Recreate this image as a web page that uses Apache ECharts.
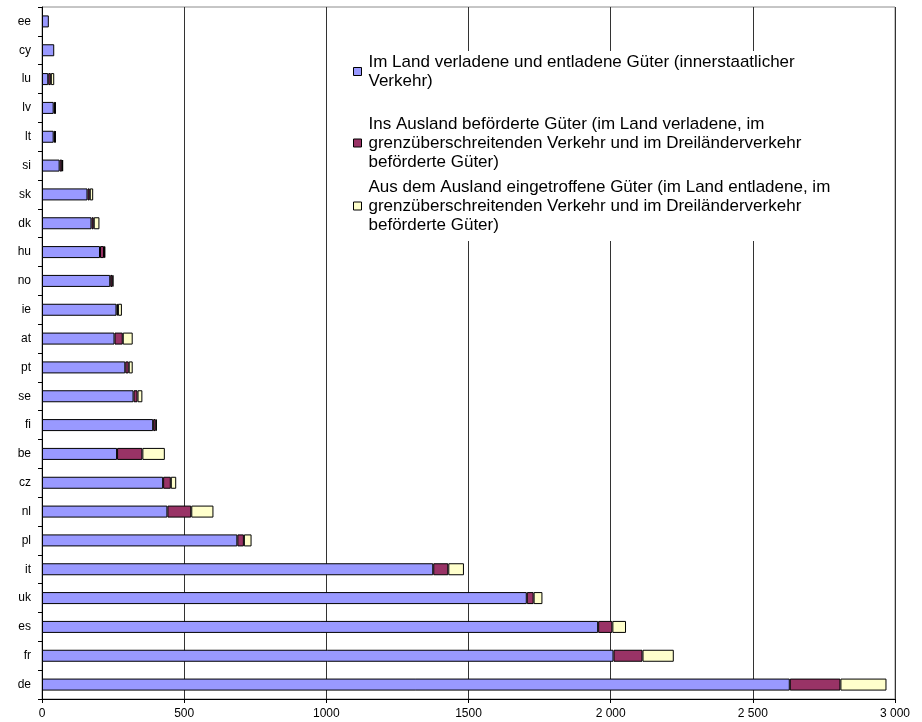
<!DOCTYPE html>
<html>
<head>
<meta charset="utf-8">
<script src="https://cdn.jsdelivr.net/npm/echarts@6/dist/echarts.min.js"></script>
<style>
  html, body { margin: 0; padding: 0; background: #fff; }
  #chart { width: 922px; height: 722px; }
</style>
</head>
<body>
<div id="chart"></div>
<script>
// Countries, top to bottom
const categories = ['ee', 'cy', 'lu', 'lv', 'lt', 'si', 'sk', 'dk', 'hu', 'no', 'ie', 'at',
  'pt', 'se', 'fi', 'be', 'cz', 'nl', 'pl', 'it', 'uk', 'es', 'fr', 'de'];

// National transport (loaded and unloaded in the country)
const domestic = [24, 43, 22, 41, 41, 62, 160, 174, 204, 240, 262, 255,
  293, 322, 391, 264, 426, 441, 687, 1376, 1705, 1956, 2010, 2630];

// Goods sent abroad
const outbound = [null, null, 9, 5, 5, 9, 8, 8, 14, 8, 5, 29,
  12, 14, 9, 89, 27, 84, 23, 53, 24, 50, 102, 178];

// Goods received from abroad
const inbound = [null, null, 12, 2, 2, 3, 12, 20, 5, 3, 14, 35,
  14, 17, 4, 79, 19, 78, 27, 55, 31, 48, 110, 162];

// Value axis tick labels
const tickLabels = ['0', '500', '1000', '1500', '2 000', '2 500', '3 000'];

const seriesNames = [
  'Im Land verladene und entladene Güter (innerstaatlicher\nVerkehr)',
  'Ins Ausland beförderte Güter (im Land verladene, im\ngrenzüberschreitenden Verkehr und im Dreiländerverkehr\nbeförderte Güter)',
  'Aus dem Ausland eingetroffene Güter (im Land entladene, im\ngrenzüberschreitenden Verkehr und im Dreiländerverkehr\nbeförderte Güter)'
];
const seriesData = [domestic, outbound, inbound];
const seriesColors = ['#9999FF', '#993366', '#FFFFCC'];

const FONT = 'Liberation Sans, Arial, sans-serif';
const LEGEND_SIZE = 17;
const LEGEND_LINE = 19;
const legendFirstLine = [63, 125, 188];

const chart = echarts.init(document.getElementById('chart'), null, { renderer: 'canvas' });

// One legend block per series; the square sits on the first text line.
const legends = seriesNames.map((name, i) => {
  const lines = name.split('\n').length;
  return {
    data: [name],
    orient: 'vertical',
    left: 353,
    top: legendFirstLine[i] - LEGEND_LINE / 2,
    padding: 0,
    itemGap: 0,
    itemWidth: 8,
    itemHeight: 8,
    icon: 'rect',
    selectedMode: false,
    z: 10,
    itemStyle: { borderColor: '#000', borderWidth: 1 },
    textStyle: {
      fontFamily: FONT,
      fontSize: LEGEND_SIZE,
      lineHeight: LEGEND_LINE,
      color: '#000',
      padding: [-LEGEND_LINE * (lines - 1), 0, 0, 2]
    }
  };
});

chart.setOption({
  animation: false,
  backgroundColor: '#fff',
  textStyle: { fontFamily: FONT },
  grid: {
    left: 42, right: 27, top: 7, bottom: 23,
    containLabel: false,
    outerBoundsMode: 'none',
    show: true,
    borderColor: '#8c8c8c',
    borderWidth: 1,
    backgroundColor: 'transparent'
  },
  legend: legends,
  graphic: [{
    type: 'rect',
    z: 5,
    shape: { x: 345, y: 51, width: 505, height: 190 },
    style: { fill: '#fff' },
    silent: true
  }],
  xAxis: {
    type: 'value',
    min: 0,
    max: 3000,
    interval: 500,
    axisLine: { show: true, lineStyle: { color: '#000', width: 1 } },
    axisTick: { show: true, length: 4, lineStyle: { color: '#000' } },
    axisLabel: {
      color: '#000',
      fontSize: 12,
      margin: 9,
      formatter: v => tickLabels[Math.round(v / 500)]
    },
    splitLine: { show: true, lineStyle: { color: '#333', width: 1 } }
  },
  yAxis: {
    type: 'category',
    data: categories,
    inverse: true,
    axisLine: { show: true, lineStyle: { color: '#000', width: 1 } },
    axisTick: { show: true, length: 4, alignWithLabel: false, lineStyle: { color: '#000' } },
    axisLabel: { color: '#000', fontSize: 12, margin: 11 },
    splitLine: { show: false }
  },
  series: seriesNames.map((name, i) => ({
    name: name,
    type: 'bar',
    stack: 'total',
    barWidth: 12,
    data: seriesData[i],
    itemStyle: { color: seriesColors[i], borderColor: '#000', borderWidth: 1 },
    emphasis: { disabled: true }
  }))
});
</script>
</body>
</html>
